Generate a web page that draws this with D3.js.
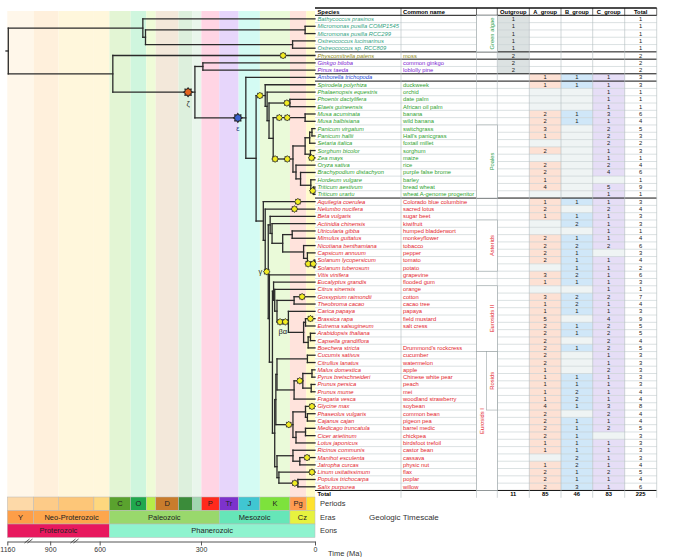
<!DOCTYPE html>
<html><head><meta charset="utf-8">
<script src="https://cdn.jsdelivr.net/npm/d3@7"></script>
<style>
body{margin:0;background:#fff}
svg{display:block}
text{font-family:"Liberation Sans",Arial,sans-serif}
</style>
</head><body>
<svg id="chart" width="688" height="557"></svg>
<script>
// ---------------- DATA ----------------
const species = ["Bathycoccus prasinos","Micromonas pusilla COMP1545","Micromonas pusilla RCC299","Ostreococcus lucimarinus","Ostreococcus sp. RCC809","Physcomitrella patens","Ginkgo biloba","Pinus taeda","Amborella trichopoda","Spirodela polyrhiza","Phalaenopsis equestris","Phoenix dactylifera","Elaeis guineensis","Musa acuminata","Musa balbisiana","Panicum virgatum","Panicum hallii","Setaria italica","Sorghum bicolor","Zea mays","Oryza sativa","Brachypodium distachyon","Hordeum vulgare","Triticum aestivum","Triticum urartu","Aquilegia coerulea","Nelumbo nucifera","Beta vulgaris","Actinidia chinensis","Utricularia gibba","Mimulus guttatus","Nicotiana benthamiana","Capsicum annuum","Solanum lycopersicum","Solanum tuberosum","Vitis vinifera","Eucalyptus grandis","Citrus sinensis","Gossypium raimondii","Theobroma cacao","Carica papaya","Brassica rapa","Eutrema salsugineum","Arabidopsis thaliana","Capsella grandiflora","Boechera stricta","Cucumis sativus","Citrullus lanatus","Malus domestica","Pyrus bretschneideri","Prunus persica","Prunus mume","Fragaria vesca","Glycine max","Phaseolus vulgaris","Cajanus cajan","Medicago truncatula","Cicer arietinum","Lotus japonicus","Ricinus communis","Manihot esculenta","Jatropha curcas","Linum usitatissimum","Populus trichocarpa","Salix purpurea"];
const commonNames = ["","","","","","moss","common ginkgo","loblolly pine","","duckweek","orchid","date palm","African oil palm","banana","wild banana","switchgrass","Hall's panicgrass","foxtail millet","sorghum","maize","rice","purple false brome","barley","bread wheat","wheat A-genome progenitor","Colorado blue columbine","sacred lotus","sugar beet","kiwifruit","humped bladderwort","monkeyflower","tobacco","pepper","tomato","potato","grapevine","flooded gum","orange","cotton","cacao tree","papaya","field mustard","salt cress","","","Drummond's rockcress","cucumber","watermelon","apple","Chinese white pear","peach","mei","woodland strawberry","soybean","common bean","pigeon pea","barrel medic","chickpea","birdsfoot trefoil","castor bean","cassava","physic nut","flax","poplar","willow"];
const rowClade = ["algae","algae","algae","algae","algae","moss","gymno","gymno","amborella",
  "monocot","monocot","monocot","monocot","monocot","monocot","monocot","monocot","monocot","monocot","monocot","monocot","monocot","monocot","monocot","monocot",
  "eudicot","eudicot","eudicot","eudicot","eudicot","eudicot","eudicot","eudicot","eudicot","eudicot","eudicot","eudicot","eudicot","eudicot","eudicot","eudicot","eudicot","eudicot","eudicot","eudicot","eudicot","eudicot","eudicot","eudicot","eudicot","eudicot","eudicot","eudicot","eudicot","eudicot","eudicot","eudicot","eudicot","eudicot","eudicot","eudicot","eudicot","eudicot","eudicot","eudicot"];
const _ = null;
const outgroup = [1,1,1,1,1,2,2,2, _,_,_,_,_,_,_,_,_,_,_,_,_,_,_,_,_, _,_,_,_,_,_,_,_,_,_,_,_,_,_,_,_,_,_,_,_,_,_,_,_,_,_,_,_,_,_,_,_,_,_,_,_,_,_,_,_];
const aGroup   = [_,_,_,_,_,_,_,_, 1,1,_,_,_,2,2,3,1,_,2,_,2,2,1,4,_, 1,2,1,_,_,2,2,2,2,_,3,1,_,3,1,1,5,2,2,2,2,2,2,1,1,1,1,1,4,2,2,2,2,1,1,_,1,2,2,2];
const bGroup   = [_,_,_,_,_,_,_,_, 1,1,_,_,_,1,1,_,_,_,_,_,_,_,_,_,_, 1,_,1,2,_,1,2,1,1,1,2,1,_,2,2,1,_,1,1,_,1,_,_,_,1,1,2,2,1,_,1,1,1,1,1,2,2,1,1,3];
const cGroup   = [_,_,_,_,_,_,_,_, 1,1,1,1,1,3,1,2,2,2,1,1,2,4,_,5,1, 1,2,1,1,1,1,2,_,1,1,1,1,1,2,1,1,4,2,2,2,2,1,1,2,1,1,1,1,3,2,1,2,_,1,1,1,1,2,1,1];
const rowTotals = [1,1,1,1,1,2,2,2,3,3,1,1,1,6,4,5,3,2,3,1,4,6,1,9,1,3,4,3,3,1,4,6,3,4,2,6,3,1,7,4,3,9,5,5,4,5,3,3,3,3,3,4,4,8,4,4,5,3,3,3,3,4,5,4,6];
const columnHeaders = ["Species","Common name","Outgroup","A_group","B_group","C_group","Total"];
const columnTotals = [11,85,46,83,225];

// tree (Newick, internal labels = node age in Ma)
const algaeNwk = "(Bathycoccus prasinos,((Micromonas pusilla COMP1545,Micromonas pusilla RCC299)26,(Ostreococcus lucimarinus,Ostreococcus sp. RCC809)59)446)453";
const monocotNwk = "(Spirodela polyrhiza,(Phalaenopsis equestris,((Phoenix dactylifera,Elaeis guineensis)66,((Musa acuminata,Musa balbisiana)26,((((Panicum virgatum,Panicum hallii)8,Setaria italica)14,(Sorghum bicolor,Zea mays)12)26,(Oryza sativa,(Brachypodium distachyon,(Hordeum vulgare,(Triticum aestivum,Triticum urartu)4)11)38)50)58)110)121)126)131";
const superasteridNwk = "(Beta vulgaris,(Actinidia chinensis,((Utricularia gibba,Mimulus guttatus)60,(Nicotiana benthamiana,(Capsicum annuum,(Solanum lycopersicum,Solanum tuberosum)2)20)30)85)113)118";
const malvidNwk = "(Eucalyptus grandis,(Citrus sinensis,((Gossypium raimondii,Theobroma cacao)55,(Carica papaya,((Brassica rapa,Eutrema salsugineum)25,((Arabidopsis thaliana,Capsella grandiflora)12,Boechera stricta)18)30)70)100)106)109";
const fabidNwk = "((((Cucumis sativus,Citrullus lanatus)20,(((Malus domestica,Pyrus bretschneideri)8,(Prunus persica,Prunus mume)10)32,Fragaria vesca)55)100,((Glycine max,(Phaseolus vulgaris,Cajanus cajan)20)25,((Medicago truncatula,Cicer arietinum)25,Lotus japonicus)50)58)103,((Ricinus communis,(Manihot esculenta,Jatropha curcas)40)58,(Linum usitatissimum,(Populus trichocarpa,Salix purpurea)45)95)100)106";
const eudicotNwk = "(Aquilegia coerulea,(Nelumbo nucifera,(" + superasteridNwk + ",(Vitis vinifera,(" + malvidNwk + "," + fabidNwk + ")112)120)123)131)136";
const treeNwk = "(" + algaeNwk + ",(Physcomitrella patens,((Ginkgo biloba,Pinus taeda)295,(Amborella trichopoda,(" + monocotNwk + "," + eudicotNwk + ")155)182)316)532)1154";

// whole-genome duplication events: [first leaf, last leaf, age (Ma), kind, label]
const wgdEvents = [
  ["Physcomitrella patens","Physcomitrella patens",84,"y",""],
  ["Ginkgo biloba","Salix purpurea",334,"z","ζ"],
  ["Amborella trichopoda","Salix purpurea",203,"e","ε"],
  ["Spirodela polyrhiza","Triticum urartu",145,"y",""],
  ["Phoenix dactylifera","Elaeis guineensis",74,"y",""],
  ["Musa acuminata","Musa balbisiana",94,"y",""],
  ["Musa acuminata","Musa balbisiana",73,"y",""],
  ["Panicum virgatum","Triticum urartu",105,"y",""],
  ["Panicum virgatum","Triticum urartu",73,"y",""],
  ["Zea mays","Zea mays",9,"y",""],
  ["Triticum aestivum","Triticum urartu",6,"y",""],
  ["Aquilegia coerulea","Aquilegia coerulea",45,"y",""],
  ["Nelumbo nucifera","Nelumbo nucifera",54,"y",""],
  ["Beta vulgaris","Salix purpurea",127,"y","γ"],
  ["Solanum lycopersicum","Solanum tuberosum",18,"y",""],
  ["Solanum lycopersicum","Solanum tuberosum",4.5,"y",""],
  ["Gossypium raimondii","Gossypium raimondii",34,"y",""],
  ["Carica papaya","Boechera stricta",92,"y",""],
  ["Carica papaya","Boechera stricta",78,"y","βα"],
  ["Brassica rapa","Brassica rapa",12,"y",""],
  ["Malus domestica","Prunus mume",40,"y",""],
  ["Glycine max","Lotus japonicus",69,"y",""],
  ["Glycine max","Glycine max",8,"y",""],
  ["Manihot esculenta","Manihot esculenta",21,"y",""],
  ["Linum usitatissimum","Linum usitatissimum",8,"y",""],
  ["Populus trichocarpa","Salix purpurea",53,"y",""]
];

// side group labels: [label, first row, last row, column]
const groupLabels = [
  ["Green algae",1,5,2],["Poales",16,25,2],["Asterids",29,35,2],
  ["Eurosids II",38,46,2],["Eurosids I",47,65,1],["Rosids",47,54,2]
];

// geologic timescale
const periodStart = [1160,1000,850,635,541,485,444,419,359,323,299,252,201,145,66,23];
const periodEnd   = [1000,850,635,541,485,444,419,359,323,299,252,201,145,66,23,0];
const periodNames = ["","","","","C","O","","D","","","P","Tr","J","K","Pg",""];
const eraStart = [1160,1000,541,252,66];
const eraEnd   = [1000,541,252,66,0];
const eraNames = ["Y","Neo-Proterozoic","Paleozoic","Mesozoic","Cz"];
const eonStart = [1160,541];
const eonEnd   = [541,0];
const eonNames = ["Proterozoic","Phanerozoic"];
const timeTicks = [1160,900,600,300,0];

// ---------------- STYLE ----------------
const cladeColor = {algae:"#2f9f80",moss:"#908a12",gymno:"#7a20d0",amborella:"#2448d6",monocot:"#2e9f2e",eudicot:"#e3232b"};
const periodColors = ["#fdd9a8","#fdcb88","#fdc678","#fed77e","#5aa22e","#20a84e","#b6ec48","#c97c2c","#3b8c3a","#a0d6b0","#ff2a1c","#7d32cc","#40c6d2","#7de23c","#ff9b50","#ffe22e"];
const stripeColors = ["#fff7ea","#fff0dc","#fff7dc","#fff7dc","#e3f5d4","#cff6de","#effbd8","#f3e8da","#ddf0dd","#e9f6ec","#ffd5e4","#e7d6fb","#d4fbf3","#eafad9","#ffe3dc","#fffcca"];
const eraColors = ["#fd9e48","#fda64c","#99d86c","#66e6b8","#e6f23f"];
const eonColors = ["#e8185e","#8ff3cf"];
const markerColors = {y:"#f1ec22",z:"#e4641e",e:"#3a62d0"};

// ---------------- LAYOUT ----------------
const svg = d3.select("#chart");
const x = d3.scaleLinear().domain([1160,541,0]).range([7.3,109.4,315]);
const rowH = 7.31, tableTop = 8;
const rowY = i => tableTop + (i + 0.5) * rowH;   // 0 = header, 1..65 rows, 66 = total
const stripeTop = 11, scaleTop = 497, barH = 13.5;
const colX = [315,401,476.5,497.3,529.3,561,592.7,624.7,656.7];

// stripes
svg.append("g").selectAll("rect").data(d3.range(periodStart.length)).join("rect")
  .attr("x", i => x(periodStart[i])).attr("y", stripeTop)
  .attr("width", i => x(periodEnd[i]) - x(periodStart[i])).attr("height", scaleTop - stripeTop)
  .attr("fill", i => stripeColors[i]);

// ---------------- TREE ----------------
function parseNewick(s){
  const tokens = s.match(/[(),]|[^(),]+/g);
  let pos = 0;
  function node(){
    let n;
    if (tokens[pos] === "("){
      pos++;
      n = {children: []};
      n.children.push(node());
      while (tokens[pos] === ","){ pos++; n.children.push(node()); }
      pos++;
      if (pos < tokens.length && !/^[(),]$/.test(tokens[pos])){ n.age = +tokens[pos]; pos++; }
    } else { n = {name: tokens[pos].trim(), age: 0}; pos++; }
    return n;
  }
  return node();
}
const root = d3.hierarchy(parseNewick(treeNwk));
root.eachAfter(n => {
  if (!n.children) n.y = rowY(species.indexOf(n.data.name) + 1);
  else n.y = (n.children[0].y + n.children[n.children.length - 1].y) / 2;
  n.px = x(n.data.age);
});
const treeG = svg.append("g").attr("stroke","#2a2a2a").attr("stroke-width",1.3).attr("fill","none").attr("stroke-linecap","square");
treeG.selectAll("line.h").data(root.descendants().filter(d => d.parent)).join("line")
  .attr("x1", d => d.parent.px).attr("x2", d => d.px).attr("y1", d => d.y).attr("y2", d => d.y);
treeG.selectAll("line.v").data(root.descendants().filter(d => d.children)).join("line")
  .attr("x1", d => d.px).attr("x2", d => d.px)
  .attr("y1", d => d.children[0].y).attr("y2", d => d.children[d.children.length - 1].y);
treeG.append("line").attr("x1", root.px - 2.3).attr("x2", root.px).attr("y1", root.y).attr("y2", root.y);

// markers
const leafByName = new Map(root.leaves().map(l => [l.data.name, l]));
function mrca(a, b){ const nb = leafByName.get(b); return leafByName.get(a).ancestors().find(n => n.leaves().includes(nb)); }
const starPts = d3.range(16).map(k => [k * Math.PI / 8, k % 2 ? 2.4 : 3.4]);
const starPath = d3.lineRadial().curve(d3.curveLinearClosed)(starPts);
const mG = svg.append("g");
wgdEvents.forEach(([a, b, age, kind, label]) => {
  const n = mrca(a, b);
  const cx = x(age), cy = n.y;
  const s = kind === "y" ? 1 : 1.3;
  const g = mG.append("g").attr("transform", `translate(${cx},${cy}) scale(${s})`);
  g.append("path").attr("d", starPath).attr("fill", markerColors[kind]).attr("stroke","#222").attr("stroke-width",0.8);
  if (label){
    const t = mG.append("text").text(label).attr("font-size", 7.5).attr("fill","#222");
    if (label === "γ") t.attr("x", cx - 4.5).attr("y", cy + 2.5).attr("text-anchor","end");
    else if (label === "βα") t.attr("x", cx - 2.5).attr("y", cy + 12.5).attr("text-anchor","middle");
    else t.attr("x", cx).attr("y", cy + (label === "ζ" ? 14 : 13)).attr("text-anchor","middle").attr("fill", kind === "e" ? "#223a80" : "#222");
  }
});

// ---------------- TABLE ----------------
const tG = svg.append("g");
const fs = 5.8;
const numCols = [outgroup, aGroup, bGroup, cGroup];
const fillOn = ["#dce2e2","#fde1d4","#d0e7f8","#e6def6"];
const fillOff = "#eff4f4";
species.forEach((sp, k) => {
  const i = k + 1, top = tableTop + i * rowH;
  numCols.forEach((arr, c) => {
    let f = null;
    if (c === 0) f = arr[k] != null ? fillOn[0] : null;
    else if (i >= 9) f = arr[k] != null ? fillOn[c] : fillOff;
    if (f) tG.append("rect").attr("x", colX[3 + c]).attr("y", top).attr("width", colX[4 + c] - colX[3 + c]).attr("height", rowH).attr("fill", f);
  });
});
// row separators
const blackAfter = [5,6,8,9,25,65];
d3.range(1, 66).forEach(i => {
  const yy = tableTop + (i + 1) * rowH;
  const dark = blackAfter.includes(i);
  tG.append("line").attr("x1", colX[0]).attr("x2", colX[8]).attr("y1", yy).attr("y2", yy)
    .attr("stroke", dark ? "#111" : "#c3cccf").attr("stroke-width", dark ? 1 : 0.6);
});
// vertical separators
colX.slice(1).forEach(cx => {
  tG.append("line").attr("x1", cx).attr("x2", cx).attr("y1", tableTop + rowH).attr("y2", tableTop + 67 * rowH)
    .attr("stroke","#b3bcbf").attr("stroke-width",0.6);
  tG.append("line").attr("x1", cx).attr("x2", cx).attr("y1", tableTop).attr("y2", tableTop + rowH)
    .attr("stroke","#333").attr("stroke-width",0.7);
});
tG.append("line").attr("x1", colX[0]).attr("x2", colX[8]).attr("y1", tableTop).attr("y2", tableTop).attr("stroke","#111").attr("stroke-width",1.4);
tG.append("line").attr("x1", colX[0]).attr("x2", colX[8]).attr("y1", tableTop + rowH).attr("y2", tableTop + rowH).attr("stroke","#111").attr("stroke-width",1);

// group boxes
groupLabels.forEach(([lab, r0, r1, col]) => {
  const y0 = tableTop + r0 * rowH, y1 = tableTop + (r1 + 1) * rowH;
  const bx0 = (col === 2 && lab === "Rosids") ? 486.5 : colX[2];
  tG.append("rect").attr("x", bx0).attr("y", y0).attr("width", colX[3] - bx0).attr("height", y1 - y0)
    .attr("fill","#fff").attr("stroke","#9aa4a6").attr("stroke-width",0.6);
});
groupLabels.forEach(([lab, r0, r1, col]) => {
  const y0 = tableTop + r0 * rowH, y1 = tableTop + (r1 + 1) * rowH;
  const tx = col === 1 ? 481.5 : 492;
  const color = (lab === "Green algae" || lab === "Poales") ? "#2e9f4e" : "#e3232b";
  tG.append("text").text(lab).attr("transform", `translate(${tx},${(y0 + y1) / 2}) rotate(-90)`)
    .attr("text-anchor","middle").attr("font-size", fs).attr("fill", color).attr("dy","0.35em");
});

// header
const hdrY = rowY(0) + 2;
tG.append("text").text(columnHeaders[0]).attr("x", 317.5).attr("y", hdrY).attr("font-size", fs).attr("font-weight","bold");
tG.append("text").text(columnHeaders[1]).attr("x", 403).attr("y", hdrY).attr("font-size", fs).attr("font-weight","bold");
columnHeaders.slice(2).forEach((h, c) => {
  tG.append("text").text(h).attr("x", (colX[3 + c] + colX[4 + c]) / 2).attr("y", hdrY)
    .attr("text-anchor","middle").attr("font-size", fs).attr("font-weight","bold");
});
// rows
species.forEach((sp, k) => {
  const yy = rowY(k + 1) + 2;
  const col = cladeColor[rowClade[k]];
  tG.append("text").text(sp).attr("x", 317.5).attr("y", yy).attr("font-size", fs).attr("font-style","italic").attr("fill", col);
  if (commonNames[k]) tG.append("text").text(commonNames[k]).attr("x", 403).attr("y", yy).attr("font-size", fs).attr("fill", col);
  [outgroup[k], aGroup[k], bGroup[k], cGroup[k], rowTotals[k]].forEach((v, c) => {
    if (v == null) return;
    tG.append("text").text(v).attr("x", (colX[3 + c] + colX[4 + c]) / 2).attr("y", yy)
      .attr("text-anchor","middle").attr("font-size", fs).attr("fill","#222");
  });
});
// total row
const totY = rowY(66) + 2;
tG.append("text").text("Total").attr("x", 317.5).attr("y", totY).attr("font-size", fs).attr("font-weight","bold");
columnTotals.forEach((v, c) => {
  tG.append("text").text(v).attr("x", (colX[3 + c] + colX[4 + c]) / 2).attr("y", totY)
    .attr("text-anchor","middle").attr("font-size", fs).attr("font-weight","bold");
});

// ---------------- TIMESCALE ----------------
const sG = svg.append("g");
function bar(starts, ends, names, colors, y0){
  starts.forEach((s, i) => {
    sG.append("rect").attr("x", x(s)).attr("y", y0).attr("width", x(ends[i]) - x(s)).attr("height", barH)
      .attr("fill", colors[i]).attr("stroke","#b9b9b9").attr("stroke-width",0.5);
    if (names[i]) sG.append("text").text(names[i]).attr("x", (x(s) + x(ends[i])) / 2).attr("y", y0 + barH / 2)
      .attr("dy","0.35em").attr("text-anchor","middle").attr("font-size",7.5).attr("fill","#222");
  });
}
bar(periodStart, periodEnd, periodNames, periodColors, scaleTop);
bar(eraStart, eraEnd, eraNames, eraColors, scaleTop + barH);
bar(eonStart, eonEnd, eonNames, eonColors, scaleTop + 2 * barH);
[["Periods",0],["Eras",1],["Eons",2]].forEach(([t, k]) => {
  sG.append("text").text(t).attr("x", 320).attr("y", scaleTop + k * barH + barH / 2).attr("dy","0.35em")
    .attr("font-size",7.5).attr("fill","#333");
});
sG.append("text").text("Geologic Timescale").attr("x", 369).attr("y", scaleTop + 1.5 * barH).attr("dy","0.35em")
  .attr("font-size",8).attr("fill","#333");

const axisY = 541.5;
const axG = svg.append("g").attr("transform", `translate(0,${axisY})`)
  .call(d3.axisBottom(x).tickValues(timeTicks).tickSize(4).tickSizeOuter(0).tickPadding(1.5).tickFormat(d => d));
axG.selectAll("text").attr("font-size",7).attr("fill","#333").style("font-family",'"Liberation Sans",Arial,sans-serif');
axG.selectAll("line,path").attr("stroke","#555");
// axis break marks
[28.5, 74.5].forEach(bx => {
  [-1.5, 1.5].forEach(o => {
    svg.append("line").attr("x1", bx + o - 2.5).attr("y1", axisY + 1.5).attr("x2", bx + o + 2.5).attr("y2", axisY - 2.5)
      .attr("stroke","#333").attr("stroke-width",0.8);
  });
});
svg.append("text").text("Time (Ma)").attr("x", 328).attr("y", 553).attr("dy","0.35em").attr("font-size",7.5).attr("fill","#333");
</script>
</body></html>
